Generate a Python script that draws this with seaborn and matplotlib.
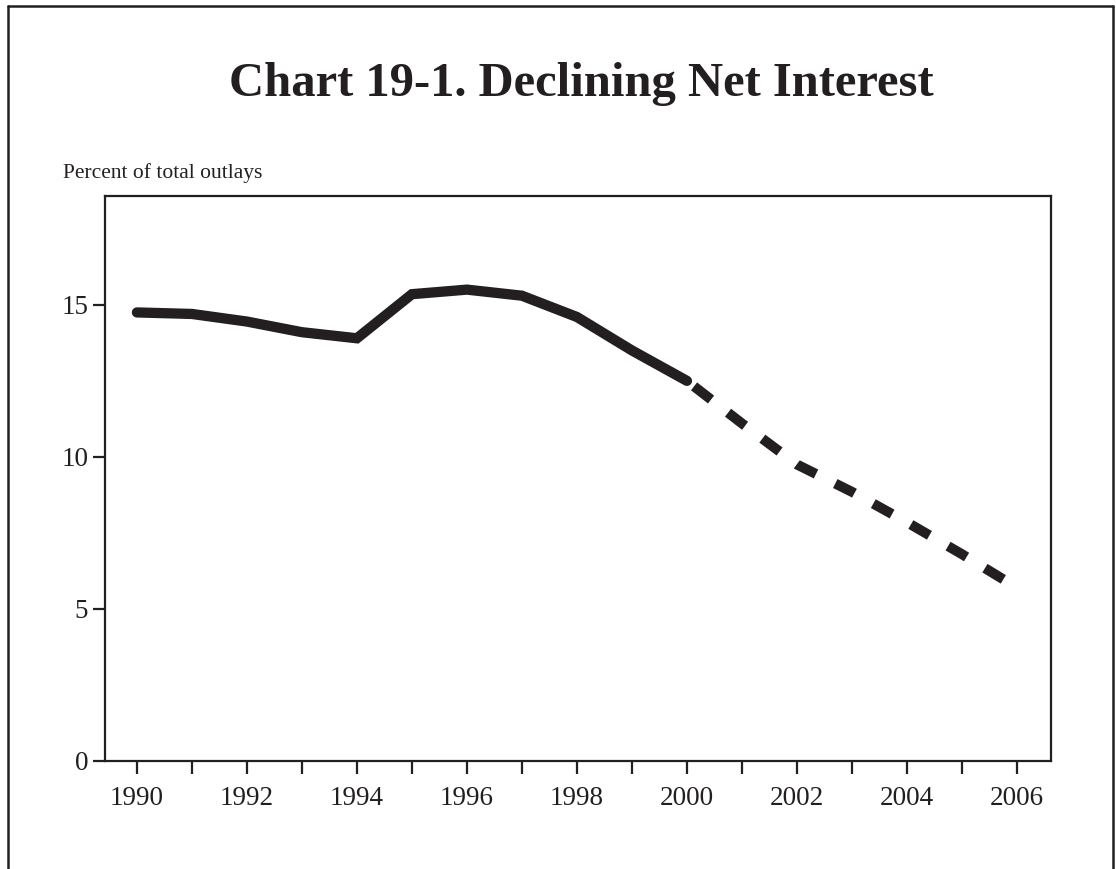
import matplotlib
matplotlib.use('Agg')
import matplotlib.pyplot as plt
from matplotlib.lines import Line2D
import seaborn as sns

# ─── Data ────────────────────────────────────────────────────────────────────
actual_years = [1990, 1991, 1992, 1993, 1994, 1995, 1996, 1997, 1998, 1999, 2000]
actual_pct = [14.75, 14.7, 14.45, 14.1, 13.9, 15.35, 15.5, 15.3, 14.6, 13.5, 12.5]

proj_years = [2000, 2001, 2002, 2003, 2004, 2005, 2006]
proj_pct = [12.5, 11.1, 9.75, 8.85, 7.85, 6.8, 5.7]

xticks_major = [1990, 1992, 1994, 1996, 1998, 2000, 2002, 2004, 2006]
xticks_minor = [1991, 1993, 1995, 1997, 1999, 2001, 2003, 2005]
yticks = [0, 5, 10, 15]

INK = '#231f20'

sns.set_theme(style='white')
plt.rcParams['font.family'] = ['Liberation Serif', 'DejaVu Serif']

fig = plt.figure(figsize=(11.16, 8.69), dpi=100)
ax = fig.add_axes([0.0941, 0.1243, 0.8477, 0.6502])

# actual (solid) and projected (dashed)
sns.lineplot(x=actual_years, y=actual_pct, ax=ax, color=INK, linewidth=7.4,
             solid_capstyle='round', solid_joinstyle='miter')
sns.lineplot(x=proj_years, y=proj_pct, ax=ax, color=INK, linewidth=7.2,
             linestyle=(3.4, (2.15, 2.15)), dash_capstyle='butt', dash_joinstyle='miter')

ax.set_xlim(1989.42, 2006.62)
ax.set_ylim(0, 18.58)
ax.set_xticks(xticks_major)
ax.set_xticks(xticks_minor, minor=True)
ax.set_yticks(yticks)
ax.set_xticklabels([str(y) for y in xticks_major])
ax.tick_params(axis='both', which='both', direction='out', length=9, width=1.6,
               color=INK, labelcolor=INK, labelsize=19.5, bottom=True, left=True)
ax.tick_params(axis='x', which='both', pad=9)
ax.tick_params(axis='y', pad=3)
for s in ax.spines.values():
    s.set_visible(True)
    s.set_color(INK)
    s.set_linewidth(1.6)
ax.set_xlabel('')
ax.set_ylabel('')
ax.grid(False)

fig.text(0.0565, 0.795, 'Percent of total outlays', fontsize=15.5, color=INK,
         ha='left', va='baseline')
fig.text(0.521, 0.889, 'Chart 19-1. Declining Net Interest', fontsize=35,
         fontweight='bold', color=INK, ha='center', va='baseline')

# outer frame (open at the bottom)
fx0, fx1, fy1 = 0.0072, 0.9975, 0.9935
for xs, ys in [([fx0, fx0], [-0.01, fy1]), ([fx0, fx1], [fy1, fy1]), ([fx1, fx1], [fy1, -0.01])]:
    fig.add_artist(Line2D(xs, ys, color=INK, linewidth=1.8, transform=fig.transFigure))

fig.savefig('out.png', dpi=100)
